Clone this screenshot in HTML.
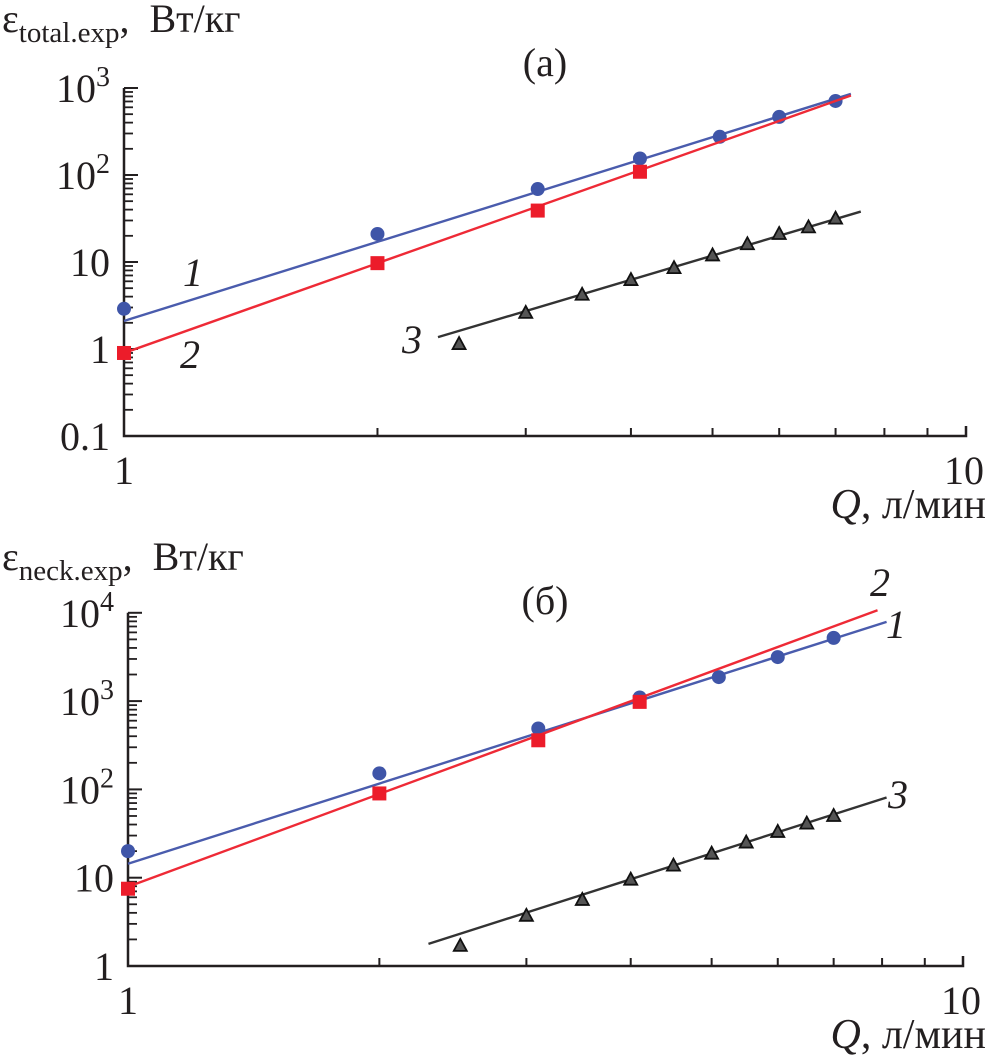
<!DOCTYPE html>
<html><head><meta charset="utf-8"><style>
html,body{margin:0;padding:0;background:#fff;}
svg{display:block;font-family:"Liberation Serif","DejaVu Serif",serif;}
</style></head><body>
<svg id="chart" width="989" height="1059" viewBox="0 0 989 1059" xmlns="http://www.w3.org/2000/svg"></svg>
<script>
// Panel (a) data
const aQ1 = [1, 2, 3.1, 4.1, 5.1, 6, 7];
const aS1 = [2.9, 21, 69, 155, 275, 465, 710];
const aFit1Q = [1, 7.3];
const aFit1 = [2.1, 855];
const aQ2 = [1, 2, 3.1, 4.1];
const aS2 = [0.9, 9.7, 39, 109];
const aFit2Q = [1, 7.3];
const aFit2 = [0.9, 820];
const aQ3 = [2.5, 3, 3.5, 4, 4.5, 5, 5.5, 6, 6.5, 7];
const aS3 = [1.14, 2.6, 4.2, 6.2, 8.5, 11.9, 16, 21, 25, 31.5];
const aFit3Q = [2.36, 7.5];
const aFit3 = [1.37, 38];
// Panel (b) data
const bQ1 = [1, 2, 3.1, 4.1, 5.1, 6, 7];
const bS1 = [20, 152, 490, 1100, 1870, 3150, 5200];
const bFit1Q = [1, 8.1];
const bFit1 = [14.4, 7900];
const bQ2 = [1, 2, 3.1, 4.1];
const bS2 = [7.5, 90, 360, 980];
const bFit2Q = [1, 7.9];
const bFit2 = [7.9, 10700];
const bQ3 = [2.5, 3, 3.5, 4, 4.5, 5, 5.5, 6, 6.5, 7];
const bS3 = [1.69, 3.7, 5.6, 9.5, 13.7, 18.7, 25, 33, 41, 50];
const bFit3Q = [2.29, 8.1];
const bFit3 = [1.78, 81];
const aYTicks = ["0.1", "1", "10", "10^2", "10^3"];
const bYTicks = ["1", "10", "10^2", "10^3", "10^4"];
const xTickLabels = ["1", "10"];

const NS = "http://www.w3.org/2000/svg";
const svg = document.getElementById("chart");
function mk(tag, attrs, parent) {
  const e = document.createElementNS(NS, tag);
  for (const k in attrs) e.setAttribute(k, attrs[k]);
  (parent || svg).appendChild(e);
  return e;
}

function panel(cfg) {
  const g = mk("g", {});
  
  
  const X = q => cfg.x0 + Math.log10(q) * cfg.xd;
  const Y = v => cfg.yBot - (Math.log10(v) - cfg.yMinExp) * cfg.yd;
  const yTop = cfg.yBot - (cfg.yTicks.length - 1) * cfg.yd;
  const xEnd = cfg.x0 + cfg.xd;
  const ax = mk("path", {d: `M${cfg.x0},${yTop} V${cfg.yBot} H${xEnd} V${cfg.yBot-10}`, stroke: "#231f20", "stroke-width": 2.5, fill: "none"}, g);
  
  
  for (let k = 2; k <= 9; k++) {
    const t = mk("line", {x1: X(k), x2: X(k), y1: cfg.yBot, y2: cfg.yBot - 8, stroke: "#231f20", "stroke-width": 2}, g);
    
    
  }
  for (let d = 0; d < cfg.yTicks.length; d++) {
    const yb = cfg.yBot - d * cfg.yd;
    if (d > 0) {
      const t = mk("line", {x1: cfg.x0, x2: cfg.x0 + 14, y1: yb, y2: yb, stroke: "#231f20", "stroke-width": 2}, g);
      
      
    }
    if (d < cfg.yTicks.length - 1) {
      for (let k = 2; k <= 9; k++) {
        const yy = yb - Math.log10(k) * cfg.yd;
        const t = mk("line", {x1: cfg.x0, x2: cfg.x0 + 9, y1: yy, y2: yy, stroke: "#231f20", "stroke-width": 1.8}, g);
        
        
      }
    }
    const lab = cfg.yTicks[d];
    const tx = mk("text", {x: cfg.x0 - 14, y: yb + 14, "font-size": 40, "text-anchor": "end", fill: "#231f20"}, g);
    
    
    if (lab.indexOf("^") > 0) {
      const [b, e] = lab.split("^");
      tx.appendChild(document.createTextNode(b));
      const s = mk("tspan", {dy: -16, "font-size": 28}, tx);
      s.textContent = e;
    } else tx.textContent = lab;
  }
  const xl1 = mk("text", {x: cfg.x0, y: cfg.yBot + 48, "font-size": 40, "text-anchor": "middle", fill: "#231f20"}, g);
  
  
  xl1.textContent = xTickLabels[0];
  const xl2 = mk("text", {x: xEnd + 18, y: cfg.yBot + 48, "font-size": 40, "text-anchor": "end", fill: "#231f20"}, g);
  
  
  xl2.textContent = xTickLabels[1];
  const xt = mk("text", {x: 986, y: cfg.yBot + 82, "font-size": 42, "text-anchor": "end", fill: "#231f20"}, g);
  
  
  const qi = mk("tspan", {"font-style": "italic"}, xt); qi.textContent = "Q";
  xt.appendChild(document.createTextNode(", л/мин"));
  const yt = mk("text", {x: 2, y: cfg.titleY, "font-size": 40, fill: "#231f20"}, g);
  
  
  yt.appendChild(document.createTextNode("ε"));
  const sb = mk("tspan", {dy: 10, "font-size": 29}, yt); sb.textContent = cfg.sub;
  const rest = mk("tspan", {dy: -10}, yt); rest.textContent = ", \u00a0Вт/кг";
  const pl = mk("text", {x: 545, y: cfg.titleY + 44, "font-size": 40, "text-anchor": "middle", fill: "#231f20"}, g);
  
  
  pl.textContent = cfg.label;
  const series = [
    {q: cfg.q1, v: cfg.s1, fq: cfg.f1q, fv: cfg.f1, color: "#4a5cad", mc: "#3f55a8", m: "circle", n: "1"},
    {q: cfg.q2, v: cfg.s2, fq: cfg.f2q, fv: cfg.f2, color: "#ee2a36", mc: "#ec1c2a", m: "square", n: "2"},
    {q: cfg.q3, v: cfg.s3, fq: cfg.f3q, fv: cfg.f3, color: "#333", mc: "#333", m: "tri", n: "3"}
  ];
  series.forEach((s) => {
    const sg = mk("g", {}, g);
    
    
    const ln = mk("line", {x1: X(s.fq[0]), y1: Y(s.fv[0]), x2: X(s.fq[1]), y2: Y(s.fv[1]), stroke: s.color, "stroke-width": 2.4}, sg);
    
    
    s.q.forEach((q, j) => {
      const px = X(q), py = Y(s.v[j]);
      let e;
      if (s.m === "circle") e = mk("circle", {cx: px, cy: py, r: 7, fill: s.mc}, sg);
      else if (s.m === "square") e = mk("rect", {x: px - 7, y: py - 7, width: 14, height: 14, fill: s.mc}, sg);
      else e = mk("polygon", {points: `${px},${py-7} ${px-6.5},${py+5} ${px+6.5},${py+5}`, fill: "#555", stroke: "#111", "stroke-width": 1.8}, sg);
      
      
    });
  });
  cfg.curveLabels.forEach(c => {
    const t = mk("text", {x: c[1], y: c[2], "font-size": 40, "font-style": "italic", fill: "#231f20"}, g);
    
    
    t.textContent = c[0];
  });
}

panel({name: "panel-a", x0: 124, xd: 842, yBot: 436, yd: 87, yMinExp: -1, yTicks: aYTicks,
  titleY: 32, sub: "total.exp", label: "(а)",
  q1: aQ1, s1: aS1, f1q: aFit1Q, f1: aFit1, q2: aQ2, s2: aS2, f2q: aFit2Q, f2: aFit2, q3: aQ3, s3: aS3, f3q: aFit3Q, f3: aFit3,
  curveLabels: [["1", 183, 286], ["2", 180, 368], ["3", 402, 353]]});
panel({name: "panel-b", x0: 128, xd: 835, yBot: 966, yd: 88.3, yMinExp: 0, yTicks: bYTicks,
  titleY: 570, sub: "neck.exp", label: "(б)",
  q1: bQ1, s1: bS1, f1q: bFit1Q, f1: bFit1, q2: bQ2, s2: bS2, f2q: bFit2Q, f2: bFit2, q3: bQ3, s3: bS3, f3q: bFit3Q, f3: bFit3,
  curveLabels: [["2", 870, 596], ["1", 886, 638], ["3", 888, 808]]});
</script>
</body></html>
